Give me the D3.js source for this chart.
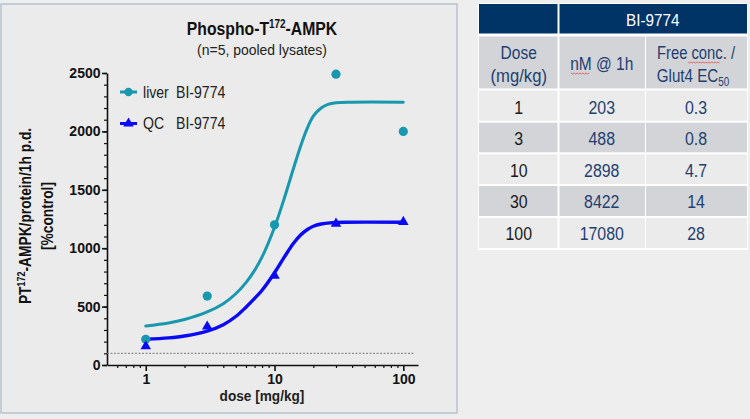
<!DOCTYPE html>
<html><head><meta charset="utf-8">
<script src="https://cdn.jsdelivr.net/npm/d3@7"></script>
<style>
html,body{margin:0;padding:0;background:#eeeeee;}
svg{display:block;}
</style></head>
<body>
<svg id="c" width="750" height="419"></svg>
<script>
// ---------- data ----------
const doses = [1, 3, 10, 30, 100];
const liverValues = [220, 590, 1200, 2490, 2000];
const qcValues = [160, 330, 765, 1210, 1225];
// fitted curves (dose, value)
const liverCurveDoses = [1, 1.5, 2, 3, 4, 5, 6, 7, 8, 10, 12, 14, 16, 18, 20, 23, 26, 30, 40, 100];
const liverCurveValues = [334, 360, 390, 455, 525, 610, 705, 810, 925, 1180, 1440, 1680, 1880, 2030, 2130, 2200, 2232, 2245, 2250, 2250];
const qcCurveDoses = [1, 1.5, 2, 3, 4, 5, 6, 7, 8, 10, 12, 14, 16, 18, 20, 23, 27, 35, 100];
const qcCurveValues = [220, 232, 248, 290, 345, 415, 495, 570, 640, 790, 930, 1040, 1115, 1160, 1188, 1207, 1217, 1222, 1222];
const baselineValue = 100;
const yTicks = [0, 500, 1000, 1500, 2000, 2500];
const xTicks = [1, 10, 100];
const seriesNames = ["liver", "QC"];
const compound = "BI-9774";
// table
const tableDoses = ["1", "3", "10", "30", "100"];
const tableConc = ["203", "488", "2898", "8422", "17080"];
const tableRatio = ["0.3", "0.8", "4.7", "14", "28"];

// ---------- chart ----------
const svg = d3.select("#c");
const F = "'Liberation Sans',Arial,sans-serif";

// text helper with horizontal condensing
function ctext(parent, tx, ty, sx, opts) {
  const t = parent.append("text")
    .attr("transform", `translate(${tx},${ty})${opts.rot ? " rotate(" + opts.rot + ")" : ""} scale(${sx},1)`)
    .attr("text-anchor", opts.anchor || "middle")
    .attr("font-family", F).attr("font-size", opts.size)
    .attr("font-weight", opts.bold ? "bold" : "normal")
    .attr("fill", opts.fill || "#111");
  if (opts.text !== undefined) t.text(opts.text);
  return t;
}

// left panel
svg.append("rect").attr("x", 1).attr("y", 4).attr("width", 456).attr("height", 409)
  .attr("fill", "#ebebeb").attr("stroke", "#b7c3cf").attr("stroke-width", 1.5);

const x = d3.scaleLog().domain([0.5, 130]).range([107, 418]);
const y = d3.scaleLinear().domain([0, 2500]).range([365, 73]);

// minor y ticks
const yMinor = d3.range(0, 2501, 100);
svg.append("g").attr("transform", "translate(107,0)")
  .call(d3.axisLeft(y).tickValues(yMinor).tickSize(3).tickFormat(""))
  .call(g => g.select(".domain").remove())
  .call(g => g.selectAll("line").attr("stroke", "#111").attr("stroke-width", 1.2));
// major y
const gy = svg.append("g").attr("transform", "translate(107,0)")
  .call(d3.axisLeft(y).tickValues(yTicks).tickSize(5).tickPadding(1.5).tickSizeOuter(0).tickFormat(d3.format("d")));
gy.select(".domain").attr("stroke", "#111").attr("stroke-width", 1.6);
gy.selectAll("line").attr("stroke", "#111").attr("stroke-width", 1.6);
gy.selectAll("text").attr("font-family", F).attr("font-weight", "bold")
  .attr("font-size", 14).attr("fill", "#111");

// x minor ticks
const xMinor = [0.6, 0.7, 0.8, 0.9, 2, 3, 4, 5, 6, 7, 8, 9, 20, 30, 40, 50, 60, 70, 80, 90];
svg.append("g").attr("transform", "translate(0,365)")
  .call(d3.axisBottom(x).tickValues(xMinor).tickSize(3).tickFormat(""))
  .call(g => g.select(".domain").remove())
  .call(g => g.selectAll("line").attr("stroke", "#111").attr("stroke-width", 1.2));
const gx = svg.append("g").attr("transform", "translate(0,365)")
  .call(d3.axisBottom(x).tickValues(xTicks).tickSize(6).tickPadding(3).tickSizeOuter(0).tickFormat(d3.format("d")));
gx.select(".domain").attr("stroke", "#111").attr("stroke-width", 1.6);
gx.selectAll("line").attr("stroke", "#111").attr("stroke-width", 1.6);
gx.selectAll("text").attr("font-family", F).attr("font-weight", "bold")
  .attr("font-size", 14).attr("fill", "#111");

// baseline dashed
svg.append("line").attr("x1", 107).attr("x2", 415)
  .attr("y1", y(baselineValue)).attr("y2", y(baselineValue))
  .attr("stroke", "#777").attr("stroke-width", 1).attr("stroke-dasharray", "2,1.5");

// curves
const line = d3.line().x(d => x(d[0])).y(d => y(d[1])).curve(d3.curveCatmullRom.alpha(0.5));
const liverCol = "#1898ae", qcCol = "#0a0af5";
svg.append("path").datum(liverCurveDoses.map((d, i) => [d, liverCurveValues[i]]))
  .attr("d", line).attr("fill", "none").attr("stroke", liverCol).attr("stroke-width", 3).attr("stroke-linecap", "round");
svg.append("path").datum(qcCurveDoses.map((d, i) => [d, qcCurveValues[i]]))
  .attr("d", line).attr("fill", "none").attr("stroke", qcCol).attr("stroke-width", 3.4).attr("stroke-linecap", "round");

// points
svg.append("g").selectAll("circle").data(doses).join("circle")
  .attr("cx", d => x(d)).attr("cy", (d, i) => y(liverValues[i])).attr("r", 4.6).attr("fill", liverCol);
const tri = d3.symbol().type(d3.symbolTriangle).size(48);
svg.append("g").selectAll("path").data(doses).join("path")
  .attr("transform", (d, i) => `translate(${x(d)},${y(qcValues[i])})`)
  .attr("d", tri).attr("fill", qcCol);

// legend
const leg = [{ n: seriesNames[0], c: liverCol, t: "circle", yy: 92 }, { n: seriesNames[1], c: qcCol, t: "tri", yy: 123.5 }];
leg.forEach(l => {
  svg.append("line").attr("x1", 120).attr("x2", 137).attr("y1", l.yy).attr("y2", l.yy)
    .attr("stroke", l.c).attr("stroke-width", 3);
  if (l.t === "circle") svg.append("circle").attr("cx", 128.5).attr("cy", l.yy).attr("r", 4.2).attr("fill", l.c);
  else svg.append("path").attr("transform", `translate(128.5,${l.yy})`).attr("d", tri).attr("fill", l.c);
  ctext(svg, 143, l.yy + 5.5, 0.88, { size: 16, anchor: "start", fill: "#222", text: l.n });
  ctext(svg, 176, l.yy + 5.5, 0.88, { size: 16, anchor: "start", fill: "#222", text: compound });
});

// title
const title = ctext(svg, 262, 35, 0.83, { size: 19, bold: true });
title.append("tspan").text("Phospho-T");
title.append("tspan").attr("font-size", 12).attr("dy", -7).text("172");
title.append("tspan").attr("dy", 7).text("-AMPK");
ctext(svg, 262, 55, 0.9, { size: 15.5, fill: "#222", text: "(n=5, pooled lysates)" });

// axis titles
ctext(svg, 262, 401, 0.88, { size: 15.5, bold: true, fill: "#222", text: "dose [mg/kg]" });
const yl = ctext(svg, 30.5, 216, 0.86, { size: 16, bold: true, rot: -90 });
yl.append("tspan").text("PT");
yl.append("tspan").attr("font-size", 10.5).attr("dy", -6).text("172");
yl.append("tspan").attr("dy", 6).text("-AMPK/protein/1h p.d.");
ctext(svg, 52.5, 216, 0.86, { size: 16, bold: true, rot: -90, text: "[%control]" });

// ---------- table ----------
const navy = "#003366", txtNavy = "#1f3f70";
const cols = [479, 558.5, 645, 747];
const rowsY = [4, 35.5, 89.5, 121.7, 153.3, 185, 217, 249];
const tg = svg.append("g");
tg.append("rect").attr("x", 478).attr("y", 3).attr("width", 270).attr("height", 247).attr("fill", "#ffffff");
// header row 1
tg.append("rect").attr("x", cols[0]).attr("y", rowsY[0]).attr("width", cols[1] - cols[0] - 1).attr("height", rowsY[1] - rowsY[0] - 2).attr("fill", navy);
tg.append("rect").attr("x", cols[1] + 1).attr("y", rowsY[0]).attr("width", cols[3] - cols[1] - 1).attr("height", rowsY[1] - rowsY[0] - 2).attr("fill", navy);
ctext(tg, (cols[1] + cols[3]) / 2, 26, 0.9, { size: 17, fill: "#fff", text: compound });
// body cells
const rowFill = ["#d3d4d8", "#ebebeb", "#d3d4d8", "#ebebeb", "#d3d4d8", "#ebebeb"];
for (let r = 1; r < rowsY.length - 1; r++) {
  for (let c = 0; c < 3; c++) {
    tg.append("rect").attr("x", cols[c] + (c ? 1 : 0)).attr("y", rowsY[r] + 1)
      .attr("width", cols[c + 1] - cols[c] - 1).attr("height", rowsY[r + 1] - rowsY[r] - 2)
      .attr("fill", rowFill[r - 1]);
  }
}
const cx = [(cols[0] + cols[1]) / 2, (cols[1] + cols[2]) / 2, (cols[2] + cols[3]) / 2];
function tt(xx, yy, s, col, sx) {
  return ctext(tg, xx, yy, sx || 0.86, { size: 18.5, fill: col, text: s });
}
tt(cx[0], 59, "Dose", txtNavy, 0.84);
tt(cx[0], 81.5, "(mg/kg)", txtNavy, 0.9);
tt(cx[1], 70, "nM @ 1h", txtNavy, 0.84);
tt(cx[2], 59, "Free conc. /", txtNavy, 0.8);
const gl = tt(cx[2] - 3, 81.5, "Glut4 EC", txtNavy, 0.82);
gl.append("tspan").attr("font-size", 12).attr("dy", 4).text("50");
// spell-check squiggles
function squig(x0, x1, yy) {
  const pts = d3.range(x0, x1 + 0.1, 1.5).map((v, i) => [v, yy + (i % 2 ? 1 : 0)]);
  tg.append("path").attr("d", d3.line()(pts)).attr("fill", "none").attr("stroke", "#e05050").attr("stroke-width", 0.8);
}
squig(571, 589, 73);
squig(688, 720, 62);
const rowText = [107, 138.5, 170, 201.5, 233.5];
tableDoses.forEach((d, i) => {
  const yy = rowText[i] + 6.5;
  tt(cx[0], yy, d, "#1a1a1a");
  tt(cx[1], yy, tableConc[i], txtNavy);
  tt(cx[2], yy, tableRatio[i], txtNavy);
});
</script>
</body></html>
